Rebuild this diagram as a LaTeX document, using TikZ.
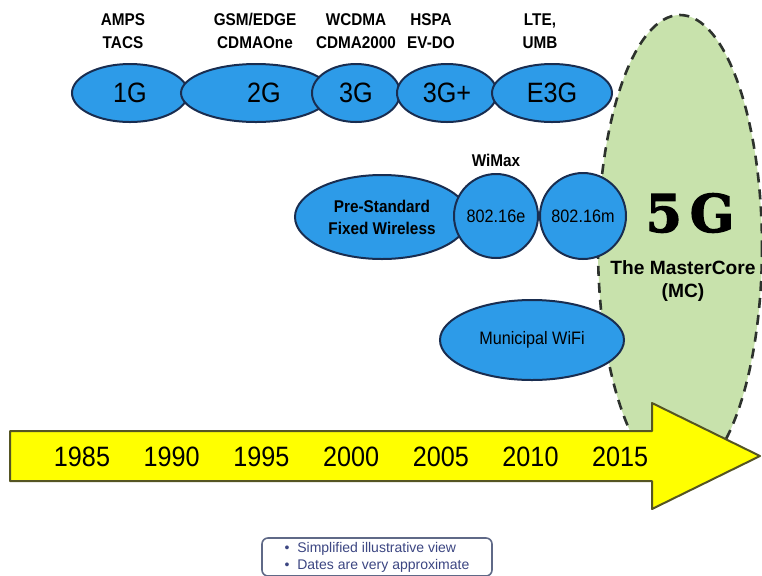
\documentclass[tikz,border=0pt]{standalone}
\usepackage{fontspec}
\setmainfont[FakeStretch=0.9]{Liberation Sans}
\newfontfamily\widefont{Liberation Sans}
\newfontfamily\heavyfont[FakeBold=2.5]{DejaVu Serif}
\usetikzlibrary{shapes.geometric,positioning}
\definecolor{cellblue}{RGB}{45,155,232}
\definecolor{cellline}{RGB}{25,45,80}
\definecolor{coregreen}{RGB}{200,226,172}
\definecolor{coreline}{RGB}{45,50,45}
\definecolor{arrowyellow}{RGB}{255,255,0}
\definecolor{arrowline}{RGB}{85,85,35}
\definecolor{notetext}{RGB}{60,70,130}
\definecolor{noteline}{RGB}{95,105,135}

\begin{document}
\begin{tikzpicture}[x=0.5pt,y=-0.5pt]
\tikzstyle{every node}+=[inner sep=0pt]
\tikzstyle{cell}=[ellipse,draw=cellline,line width=1pt,fill=cellblue]
\tikzstyle{gen}=[cell,minimum height=29pt,font=\fontsize{14}{14}\selectfont]
\tikzstyle{tech}=[align=center,font=\bfseries\fontsize{8.5}{11.5}\selectfont]
\tikzstyle{year}=[font=\fontsize{14}{14}\selectfont]
\useasboundingbox (0,0) rectangle (762,575);
% 5G core
\draw [coreline,line width=1.3pt,dash pattern=on 5pt off 3.5pt,fill=coregreen] (680,247) ellipse (82 and 232);
% generations
\node (g1) [gen,minimum width=58pt] at (130,93) {1G};
\node (g2) [gen,minimum width=75pt] at (256,93) {\hspace{8pt}2G};
\node (g3) [gen,minimum width=44pt] at (356,93) {3G};
\node (g3p) [gen,minimum width=50pt] at (447,93) {3G+};
\node (e3g) [gen,minimum width=60pt] at (552,93) {E3G};
\node (amps) [tech] at (123,31) {AMPS\\TACS};
\node (gsm) [tech] at (255,31) {GSM/EDGE\\CDMAOne};
\node (wcdma) [tech] at (356,31) {WCDMA\\CDMA2000};
\node (hspa) [tech] at (431,31) {HSPA\\EV-DO};
\node (lte) [tech] at (540,31) {LTE,\\UMB};
% wireless
\node (prestd) [cell,minimum width=87pt,minimum height=42pt,align=center,font=\bfseries\fontsize{8.5}{11}\selectfont] at (382,217) {Pre-Standard\\Fixed Wireless};
\node (wimaxe) [cell,circle,minimum size=42pt,font=\fontsize{9}{9}\selectfont] at (496,216) {802.16e};
\node (wimaxm) [cell,circle,minimum size=43pt,font=\fontsize{9}{9}\selectfont] at (583,216) {802.16m};
\node (wimax) [tech,above=3pt of wimaxe] {WiMax};
\node (muni) [cell,minimum width=92pt,minimum height=40pt,font=\fontsize{9}{9}\selectfont] at (532,340) {Municipal WiFi};
\node (fiveg) [font=\heavyfont\bfseries\fontsize{26}{26}\selectfont] at (690,213) {5\hspace{4pt}G};
\node (mc) [align=center,font=\widefont\bfseries\fontsize{9.6}{11.5}\selectfont] at (683,281) {The MasterCore\\(MC)};
% timeline
\draw [arrowline,line width=1pt,line join=round,fill=arrowyellow] (10,431) -- (652,431) -- (652,403) -- (760,456) -- (652,509) -- (652,481) -- (10,481) -- cycle;
\foreach \yr [count=\i from 0] in {1985,1990,...,2015}
  \node (y\yr) [year] at (82+89.7*\i,457) {\yr};
% note
\node (note) [draw=noteline,rounded corners=3pt,line width=0.8pt,fill=white,text=notetext,align=left,inner xsep=7pt,inner ysep=2pt,minimum width=115pt,font=\widefont\fontsize{7}{8.5}\selectfont] at (377,557) {\textbullet\ \ Simplified illustrative view\\\textbullet\ \ Dates are very approximate};
\end{tikzpicture}
\end{document}
